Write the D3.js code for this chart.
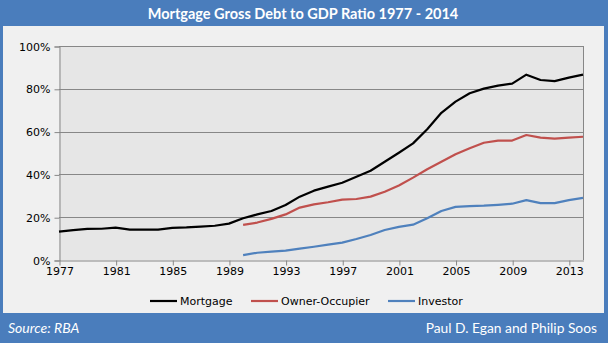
<!DOCTYPE html>
<html><head><meta charset="utf-8">
<script src="https://cdn.jsdelivr.net/npm/d3@7"></script>
<style>body{margin:0;background:#fff}svg{display:block}</style>
</head><body>
<svg id="c" width="608" height="343"></svg>
<script>
const years = d3.range(1977, 2015);
const mortgage = [13.3,14.0,14.5,14.6,15.1,14.2,14.2,14.2,15.0,15.2,15.6,16.0,17.0,19.5,21.3,22.9,25.7,29.6,32.4,34.3,36.1,38.9,41.7,45.9,50.1,54.5,61.1,68.8,74.0,77.9,80.1,81.5,82.4,86.6,84.1,83.6,85.2,86.6];
const ownerYears = d3.range(1990, 2015);
const ownerOccupier = [16.4,17.5,19.2,21.3,24.5,26.0,27.0,28.2,28.5,29.6,31.9,34.8,38.5,42.4,45.9,49.4,52.2,54.8,55.8,55.8,58.4,57.2,56.7,57.2,57.6];
const investor = [2.3,3.4,3.9,4.4,5.3,6.2,7.2,8.1,9.8,11.7,14.0,15.5,16.5,19.5,22.9,24.8,25.2,25.4,25.8,26.3,28.0,26.6,26.6,28.0,29.0];
const yTicks = [0,20,40,60,80,100];
const xTicks = [1977,1981,1985,1989,1993,1997,2001,2005,2009,2013];
const seriesNames = ["Mortgage","Owner-Occupier","Investor"];
const seriesColors = ["#000000","#C0504D","#4F81BD"];
const title = "Mortgage Gross Debt to GDP Ratio 1977 - 2014";
const source = "Source: RBA";
const credit = "Paul D. Egan and Philip Soos";

const svg = d3.select("#c");
const W = 608, H = 343;
const blue = "#4A7DBC";
svg.append("rect").attr("width",W).attr("height",H).attr("fill",blue);
svg.append("rect").attr("x",3).attr("y",26).attr("width",601).attr("height",287).attr("fill","#F0F0F0");

const x = d3.scaleLinear().domain([1977,2014]).range([59,583]);
const y = d3.scaleLinear().domain([0,100]).range([260,46]);

svg.append("rect").attr("x",59).attr("y",46).attr("width",524).attr("height",214).attr("fill","#E6E6E6");

// gridlines
svg.append("g").selectAll("line").data(yTicks.filter(d=>d>0)).join("line")
  .attr("x1",59).attr("x2",583).attr("y1",d=>Math.round(y(d))+0.5).attr("y2",d=>Math.round(y(d))+0.5)
  .attr("stroke","#878787").attr("stroke-width",1);
// right border
svg.append("line").attr("x1",583.5).attr("x2",583.5).attr("y1",46).attr("y2",260).attr("stroke","#878787");

const fontAxis = "DejaVu Sans, Verdana, sans-serif";
// y axis
const yAxis = d3.axisLeft(y).tickValues(yTicks).tickFormat(d=>d+"%").tickSize(5).tickPadding(4);
const gy = svg.append("g").attr("transform","translate(59.5,0.5)").call(yAxis);
gy.select(".domain").attr("stroke","#878787");
gy.selectAll(".tick line").attr("stroke","#878787");
gy.selectAll("text").attr("font-family",fontAxis).attr("font-size",11).attr("fill","#000");

const xAxis = d3.axisBottom(x).tickValues(xTicks).tickFormat(d3.format("d")).tickSize(5).tickSizeOuter(0).tickPadding(2);
const gx = svg.append("g").attr("transform","translate(0.5,260.5)").call(xAxis);
gx.select(".domain").attr("stroke","#878787");
gx.selectAll(".tick line").attr("stroke","#878787");
gx.selectAll("text").attr("font-family",fontAxis).attr("font-size",11).attr("fill","#000");

const line = d3.line().x(d=>x(d[0])).y(d=>y(d[1]));
const data = [
  years.map((yr,i)=>[yr,mortgage[i]]),
  ownerYears.map((yr,i)=>[yr,ownerOccupier[i]]),
  ownerYears.map((yr,i)=>[yr,investor[i]])
];
svg.append("g").selectAll("path").data(data).join("path")
  .attr("d",line).attr("fill","none")
  .attr("stroke",(d,i)=>seriesColors[i]).attr("stroke-width",2.2)
  .attr("stroke-linejoin","round");

// legend
const legendX = [150,251,388];
const lg = svg.append("g").selectAll("g").data(seriesNames).join("g")
  .attr("transform",(d,i)=>`translate(${legendX[i]},301)`);
lg.append("line").attr("x1",0).attr("x2",27).attr("y1",0).attr("y2",0)
  .attr("stroke",(d,i)=>seriesColors[i]).attr("stroke-width",2.2);
lg.append("text").attr("x",30).attr("y",4).text(d=>d)
  .attr("font-family",fontAxis).attr("font-size",11).attr("fill","#000");

// title and footer
const fontTitle = "Lato, 'Open Sans', sans-serif";
svg.append("text").attr("x",303).attr("y",19).attr("text-anchor","middle")
  .attr("font-family",fontTitle).attr("font-weight","bold").attr("font-size",14.5)
  .attr("fill","#fff").text(title);
svg.append("text").attr("x",8).attr("y",333)
  .attr("font-family",fontTitle).attr("font-style","italic").attr("font-size",14)
  .attr("fill","#fff").text(source);
svg.append("text").attr("x",597).attr("y",333).attr("text-anchor","end")
  .attr("font-family",fontTitle).attr("font-size",13.8)
  .attr("fill","#fff").text(credit);
</script>
</body></html>
